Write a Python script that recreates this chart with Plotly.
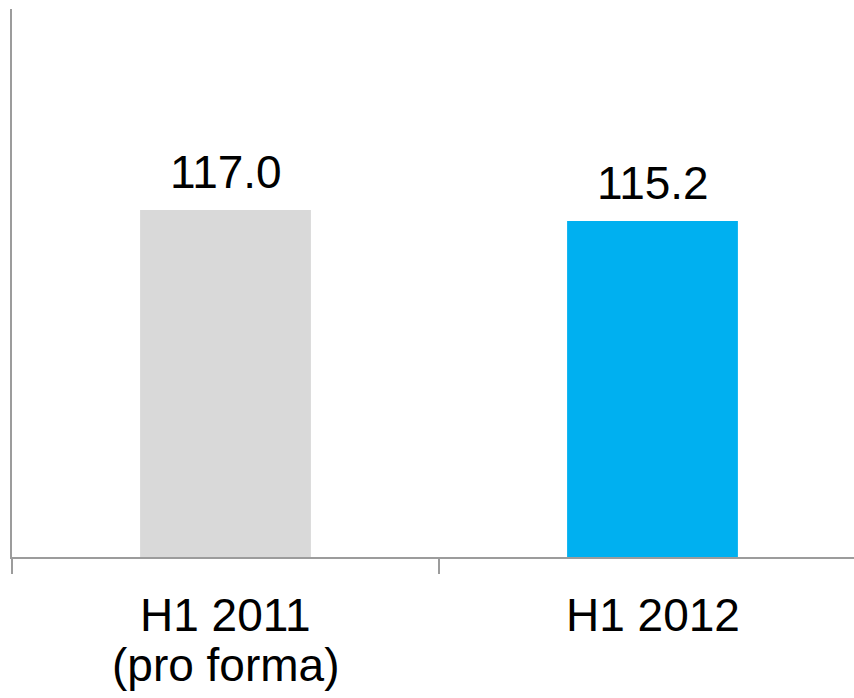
import plotly.graph_objects as go

# Period labels (two text lines each) and reported values
categories = ["H1 2011", "H1 2012"]
label_line1 = ["H1 2011", "H1 2012"]
label_line2 = ["(pro forma)", ""]
values = [117.0, 115.2]
bar_colors = ["#D9D9D9", "#00B0F0"]

FONT = "Liberation Sans, Arial, sans-serif"
AXIS_GREY = "#9C9C9C"

fig = go.Figure(
    go.Bar(
        x=categories,
        y=values,
        marker=dict(color=bar_colors, line=dict(width=0)),
        width=0.4,
        hoverinfo="skip",
    )
)

annotations = []
# value labels above each bar
for cat, v in zip(categories, values):
    annotations.append(dict(
        x=cat, y=v, xref="x", yref="y", text=f"{v:.1f}",
        showarrow=False, yanchor="bottom", yshift=10,
        font=dict(family=FONT, size=46, color="#000000"),
    ))
# category labels under the axis, one annotation per line
for cat, l1, l2 in zip(categories, label_line1, label_line2):
    annotations.append(dict(
        x=cat, y=0, xref="x", yref="paper", text=l1,
        showarrow=False, yanchor="top", yshift=-30,
        font=dict(family=FONT, size=46, color="#000000"),
    ))
    if l2:
        annotations.append(dict(
            x=cat, y=0, xref="x", yref="paper", text=l2,
            showarrow=False, yanchor="top", yshift=-80,
            font=dict(family=FONT, size=46, color="#000000"),
        ))

fig.update_layout(
    width=854,
    height=698,
    margin=dict(l=12, r=0, t=9, b=141),
    paper_bgcolor="white",
    plot_bgcolor="white",
    showlegend=False,
    annotations=annotations,
    xaxis=dict(
        type="category",
        range=[-0.5, -0.5 + 842 / 427],
        tickson="boundaries",
        ticks="outside",
        ticklen=15,
        tickwidth=2,
        tickcolor=AXIS_GREY,
        showticklabels=False,
        showline=True,
        linecolor=AXIS_GREY,
        linewidth=2,
        showgrid=False,
        zeroline=False,
    ),
    yaxis=dict(
        range=[60, 150],
        showticklabels=False,
        ticks="",
        showline=True,
        linecolor=AXIS_GREY,
        linewidth=2,
        showgrid=False,
        zeroline=False,
    ),
)

fig.write_html("out.html")
